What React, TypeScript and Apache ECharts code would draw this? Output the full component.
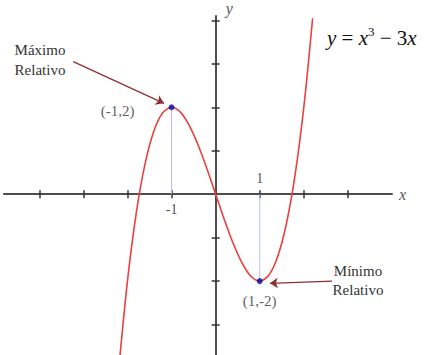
import React, { useEffect, useRef } from "react";
import * as echarts from "echarts";

// Curve y = x^3 - 3x
const curveX = [-2.2, -2.0, -1.8, -1.6, -1.4, -1.2, -1.0, -0.8, -0.6, -0.4, -0.2, 0, 0.2, 0.4, 0.6, 0.8, 1.0, 1.2, 1.4, 1.6, 1.8, 2.0, 2.2];
const curveY = [-4.048, -2, -0.432, 0.704, 1.456, 1.872, 2, 1.888, 1.584, 1.136, 0.592, 0, -0.592, -1.136, -1.584, -1.888, -2, -1.872, -1.456, -0.704, 0.432, 2, 4.048];

const extremaX = [-1, 1];
const extremaY = [2, -2];
const extremaLabels = ["(-1,2)", "(1,-2)"];

const xTicks = [-4, -3, -2, -1, 1, 2, 3];
const yTicks = [-3, -2, -1, 1, 2, 3, 4];
const xTickLabels = ["-1", "1"];
const xTickLabelValues = [-1, 1];

const maxArrow = [[-3.23, 3.05], [-1.17, 2.09]];
const minArrow = [[2.64, -2.0], [1.23, -2.05]];

const SERIF = "Liberation Serif";

export default function App() {
  const ref = useRef<HTMLDivElement>(null);
  useEffect(() => {
    if (!ref.current) return;
    const chart = echarts.init(ref.current, undefined, { renderer: "svg" });
    const tickStyle = { color: "#333", width: 1.5 };
    chart.setOption({
      animation: false,
      backgroundColor: "#fff",
      grid: { left: 4, width: 388, top: 12, height: 343, containLabel: false },
      xAxis: [
        {
          type: "value", min: -4.8, max: 4, position: "bottom",
          axisLine: { onZero: true, lineStyle: { color: "#4d4d4d", width: 2 } },
          axisTick: { show: true, customValues: xTicks, length: 4, lineStyle: tickStyle },
          axisLabel: { show: false },
          splitLine: { show: false },
          name: "x", nameLocation: "end", nameGap: 7,
          nameTextStyle: { fontFamily: SERIF, fontStyle: "italic", fontSize: 16, color: "#555", padding: [6, 0, 0, 0] },
        },
        {
          type: "value", min: -4.8, max: 4, position: "top",
          axisLine: { show: false, onZero: true },
          axisTick: { show: true, customValues: xTicks, length: 4, lineStyle: tickStyle },
          axisLabel: { show: false },
          splitLine: { show: false },
        },
      ],
      yAxis: [
        {
          type: "value", min: -3.7, max: 4.1, position: "left",
          axisLine: { onZero: true, lineStyle: { color: "#4d4d4d", width: 2 } },
          axisTick: { show: true, customValues: yTicks, length: 4, lineStyle: tickStyle },
          axisLabel: { show: false },
          splitLine: { show: false },
          name: "y", nameLocation: "end", nameGap: 8,
          nameTextStyle: { fontFamily: SERIF, fontStyle: "italic", fontSize: 16, color: "#555", align: "left", verticalAlign: "middle", padding: [0, 0, 0, 10] },
        },
        {
          type: "value", min: -3.7, max: 4.1, position: "right",
          axisLine: { show: false, onZero: true },
          axisTick: { show: true, customValues: yTicks, length: 4, lineStyle: tickStyle },
          axisLabel: { show: false },
          splitLine: { show: false },
        },
      ],
      series: [
        ...extremaX.map((x, i) => ({
          type: "line",
          silent: true,
          symbol: "none",
          data: [[x, 0], [x, extremaY[i]]],
          lineStyle: { color: "#b8bff0", width: 1 },
          z: 1,
        })),
        {
          type: "line",
          silent: true,
          symbol: "none",
          smooth: 0.3,
          clip: false,
          data: curveX.map((x, i) => [x, curveY[i]]),
          lineStyle: { color: "#e8413f", width: 1.6 },
          z: 2,
        },
        {
          type: "scatter",
          silent: true,
          symbolSize: 0,
          itemStyle: { color: "transparent" },
          data: xTickLabelValues.map((x, i) => ({
            value: [x, 0],
            label: {
              show: true,
              formatter: xTickLabels[i],
              position: x < 0 ? "bottom" : "top",
              distance: x < 0 ? 8 : 9,
              fontFamily: SERIF, fontSize: 14, color: "#222",
            },
          })),
          z: 3,
        },
        {
          type: "scatter",
          silent: true,
          symbolSize: 6,
          itemStyle: { color: "#0808a8" },
          data: extremaX.map((x, i) => ({
            value: [x, extremaY[i]],
            label: i === 0
              ? { show: true, formatter: extremaLabels[i], position: "left", distance: 34, offset: [0, 4], fontFamily: SERIF, fontSize: 15, color: "#333" }
              : { show: true, formatter: extremaLabels[i], position: "bottom", distance: 9, fontFamily: SERIF, fontSize: 15, color: "#333" },
          })),
          markLine: {
            silent: true,
            symbol: ["none", "arrow"],
            symbolSize: 8,
            label: { show: false },
            lineStyle: { color: "#8e2f2f", width: 1.2, type: "solid" },
            data: [
              [{ coord: maxArrow[0] }, { coord: maxArrow[1] }],
              [{ coord: minArrow[0] }, { coord: minArrow[1] }],
            ],
          },
          z: 4,
        },
      ],
      graphic: [
        {
          type: "text", x: 40, y: 60,
          style: { text: "Máximo\nRelativo", fontFamily: SERIF, fontSize: 15, fill: "#333", textAlign: "center", textVerticalAlign: "middle", lineHeight: 20 },
        },
        {
          type: "text", x: 358, y: 280,
          style: { text: "Mínimo\nRelativo", fontFamily: SERIF, fontSize: 15, fill: "#333", textAlign: "center", textVerticalAlign: "middle", lineHeight: 19 },
        },
        {
          type: "text", x: 327, y: 38,
          style: {
            text: "{i|y} = {i|x}{s|3} − 3{i|x}",
            fontFamily: SERIF, fontSize: 21, fill: "#111",
            textAlign: "left", textVerticalAlign: "middle",
            rich: {
              i: { fontFamily: SERIF, fontStyle: "italic", fontSize: 21, fill: "#111" },
              s: { fontFamily: SERIF, fontSize: 13, fill: "#111", padding: [0, 0, 14, 0] },
            },
          },
        },
      ],
    });
    return () => chart.dispose();
  }, []);
  return <div ref={ref} style={{ position: "fixed", left: 0, top: 0, width: 424, height: 355 }} />;
}
